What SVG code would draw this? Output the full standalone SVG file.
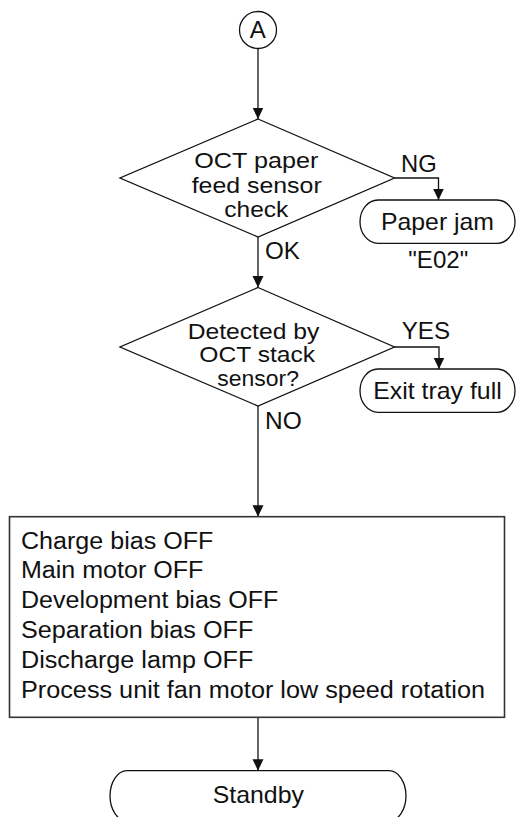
<svg xmlns="http://www.w3.org/2000/svg" width="518" height="817" viewBox="0 0 518 817">
<style>
  .s { fill: #fff; stroke: #111; stroke-width: 1.3; }
  .bx { fill: #fff; stroke: #333; stroke-width: 1.6; }
  .c { fill: none; stroke: #111; stroke-width: 1.3; }
  text { font-family: "Liberation Sans", Arial, sans-serif; fill: #111; }
  .t { font-size: 23px; }
  .d { font-size: 22px; }
  .l { font-size: 24px; }
  .m { text-anchor: middle; }
</style>
<defs>
  <marker id="arr" markerUnits="userSpaceOnUse" markerWidth="12" markerHeight="12" refX="11.5" refY="5.5" orient="auto">
    <path d="M0,0 L11.5,5.5 L0,11 Z" fill="#111"/>
  </marker>
</defs>

<g id="connectors">
  <line class="c" x1="258" y1="48.5" x2="258" y2="119" marker-end="url(#arr)"/>
  <polyline class="c" points="394.5,178 438.5,178 438.5,200" marker-end="url(#arr)"/>
  <line class="c" x1="258" y1="237" x2="258" y2="287.5" marker-end="url(#arr)"/>
  <polyline class="c" points="394.5,347 439,347 439,369" marker-end="url(#arr)"/>
  <line class="c" x1="258" y1="406" x2="258" y2="516.7" marker-end="url(#arr)"/>
  <line class="c" x1="258" y1="717.3" x2="258" y2="770.7" marker-end="url(#arr)"/>
</g>

<g id="connector-labels">
  <text class="l" x="401" y="171.7" textLength="35.7" lengthAdjust="spacingAndGlyphs">NG</text>
  <text class="l" x="265" y="259.3" textLength="35" lengthAdjust="spacingAndGlyphs">OK</text>
  <text class="l" x="401.7" y="339.3" textLength="48.3" lengthAdjust="spacingAndGlyphs">YES</text>
  <text class="l" x="265" y="429" textLength="36.7" lengthAdjust="spacingAndGlyphs">NO</text>
</g>

<g id="start-A">
  <circle class="s" cx="258" cy="30" r="18.5"/>
  <text class="l m" x="257.7" y="38.3">A</text>
</g>

<g id="decision-feed-sensor">
  <polygon class="s" points="258,119 394.5,178 258,237 120,178"/>
  <text class="d m" x="256.3" y="167.7" textLength="124" lengthAdjust="spacingAndGlyphs">OCT paper</text>
  <text class="d m" x="256.7" y="192.7" textLength="130" lengthAdjust="spacingAndGlyphs">feed sensor</text>
  <text class="d m" x="256.3" y="216.7" textLength="64" lengthAdjust="spacingAndGlyphs">check</text>
</g>

<g id="paper-jam">
  <path class="s" d="M378,200 H497 A18,21.65 0 0 1 497,243.3 H378 A18,21.65 0 0 1 378,200 Z"/>
  <text class="l m" x="437.5" y="230" textLength="113" lengthAdjust="spacingAndGlyphs">Paper jam</text>
  <text class="l m" x="438.3" y="268.3" textLength="60" lengthAdjust="spacingAndGlyphs">&quot;E02&quot;</text>
</g>

<g id="decision-stack-sensor">
  <polygon class="s" points="258,287.5 394.5,347 258,406 120,347"/>
  <text class="d m" x="253.5" y="339" textLength="131.6" lengthAdjust="spacingAndGlyphs">Detected by</text>
  <text class="d m" x="257.2" y="362.3" textLength="115.7" lengthAdjust="spacingAndGlyphs">OCT stack</text>
  <text class="d m" x="258.2" y="386" textLength="81.7" lengthAdjust="spacingAndGlyphs">sensor?</text>
</g>

<g id="exit-tray-full">
  <path class="s" d="M378,369 H497 A18,21.65 0 0 1 497,412.3 H378 A18,21.65 0 0 1 378,369 Z"/>
  <text class="l m" x="437.5" y="399" textLength="128.4" lengthAdjust="spacingAndGlyphs">Exit tray full</text>
</g>

<g id="process-box">
  <rect class="bx" x="9.5" y="516.7" width="495" height="200.6"/>
  <text class="t" x="21" y="548.5" textLength="192.3" lengthAdjust="spacingAndGlyphs">Charge bias OFF</text>
  <text class="t" x="21" y="578.3" textLength="182.3" lengthAdjust="spacingAndGlyphs">Main motor OFF</text>
  <text class="t" x="21" y="608.1" textLength="257.3" lengthAdjust="spacingAndGlyphs">Development bias OFF</text>
  <text class="t" x="21" y="637.9" textLength="232.3" lengthAdjust="spacingAndGlyphs">Separation bias OFF</text>
  <text class="t" x="21" y="667.7" textLength="232.3" lengthAdjust="spacingAndGlyphs">Discharge lamp OFF</text>
  <text class="t" x="21" y="697.8" textLength="464" lengthAdjust="spacingAndGlyphs">Process unit fan motor low speed rotation</text>
</g>

<g id="standby">
  <path class="s" d="M127,770.7 H389 A17,25.15 0 0 1 389,821 H127 A17,25.15 0 0 1 127,770.7 Z"/>
  <text class="l m" x="258.3" y="803.3" textLength="91.3" lengthAdjust="spacingAndGlyphs">Standby</text>
</g>
</svg>
